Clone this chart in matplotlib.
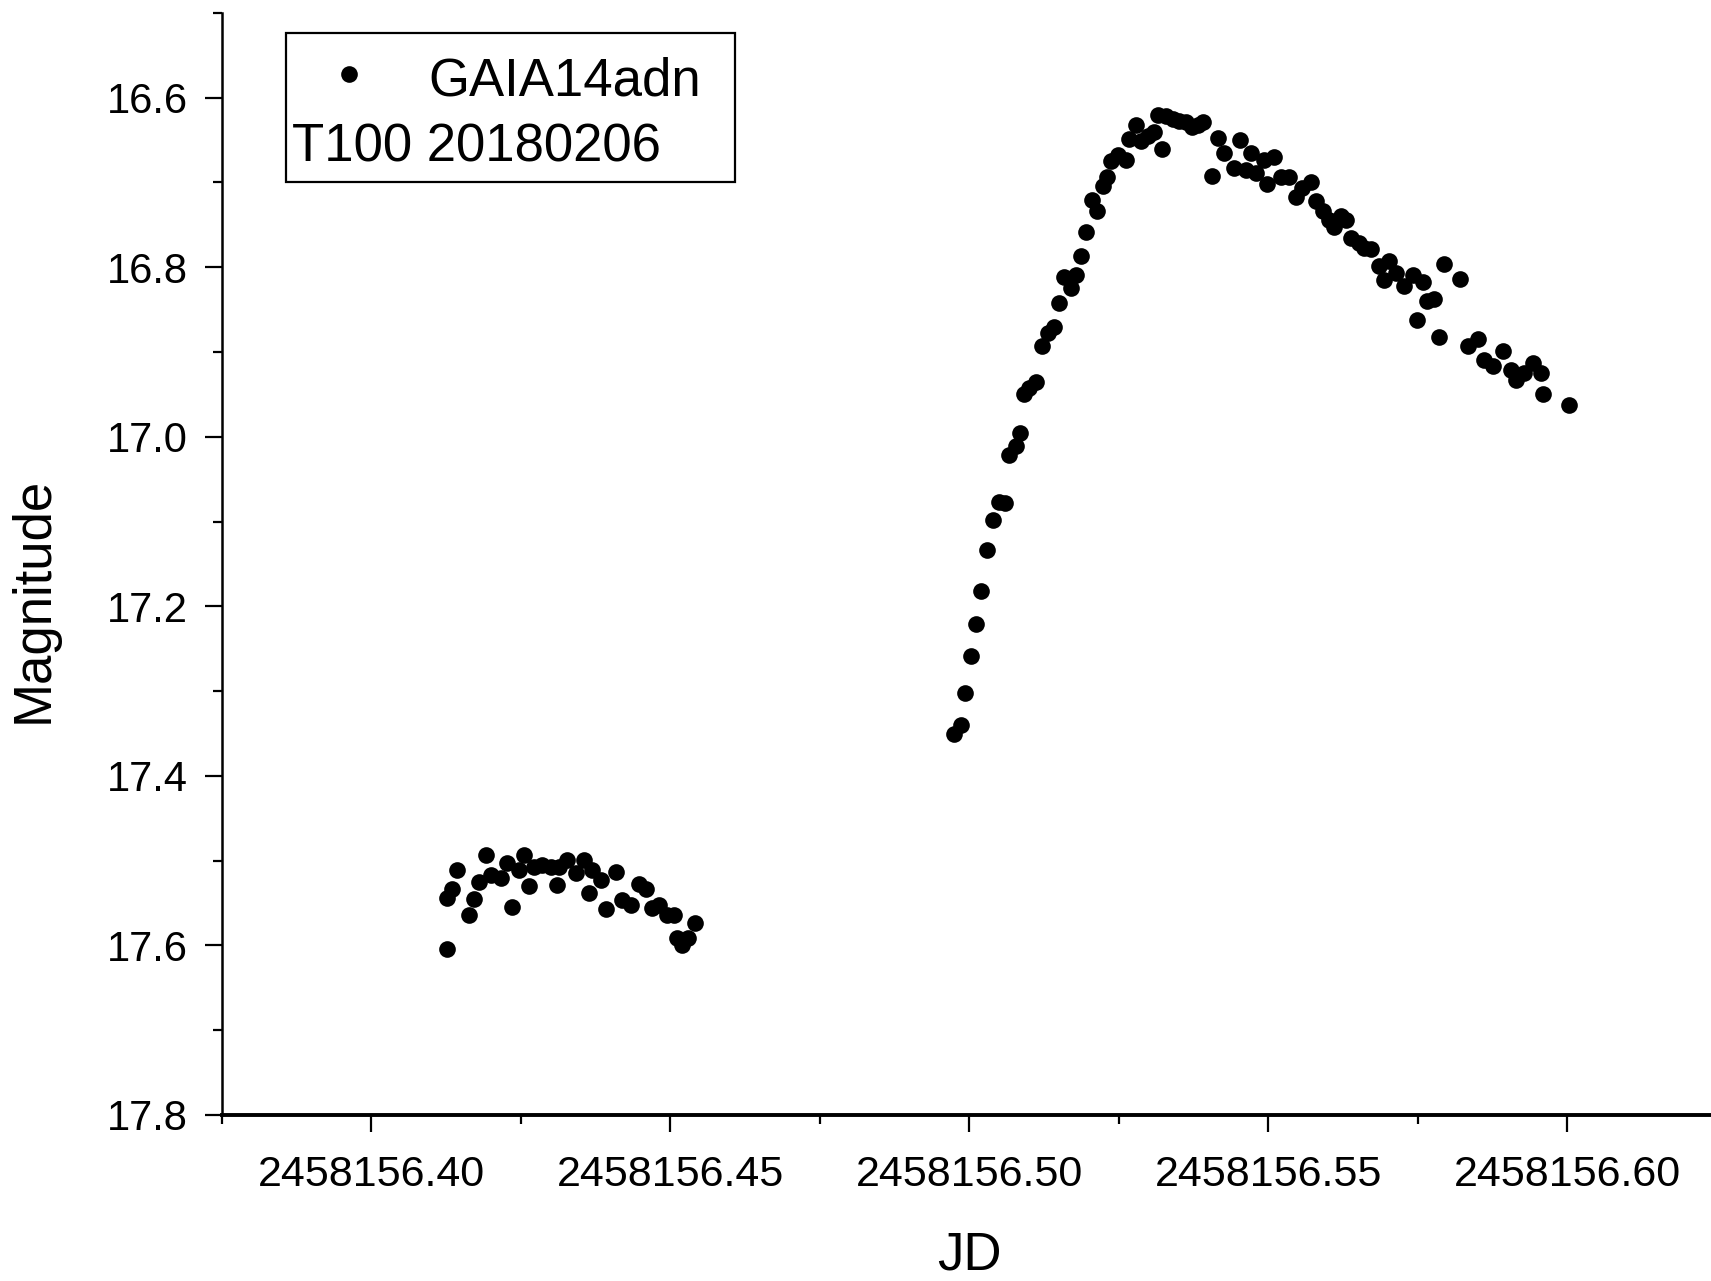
# -*- coding: utf-8 -*-
# T100 light curve of GAIA14adn, night of 2018-02-06
import numpy as np
from matplotlib import pyplot as plt
from matplotlib.ticker import MultipleLocator, FormatStrFormatter
from matplotlib.patches import Rectangle

plt.rcParams['font.family'] = ['Liberation Sans', 'DejaVu Sans']

JD0 = 2458156.0

# first segment (fraction of day after JD0, magnitude)
jd_a = [0.4127, 0.4127, 0.4136, 0.4144, 0.4163, 0.4172, 0.4180, 0.4192, 0.4200,
        0.4217, 0.4228, 0.4236, 0.4247, 0.4256, 0.4264, 0.4272, 0.4286, 0.4300,
        0.4310, 0.4314, 0.4328, 0.4342, 0.4356, 0.4364, 0.4370, 0.4384, 0.4392,
        0.4409, 0.4420, 0.4434, 0.4448, 0.4459, 0.4470, 0.4481, 0.4495, 0.4507,
        0.4512, 0.4520, 0.4529, 0.4542]
mag_a = [17.604, 17.544, 17.534, 17.511, 17.564, 17.545, 17.525, 17.493, 17.517,
         17.521, 17.503, 17.555, 17.511, 17.493, 17.530, 17.507, 17.505, 17.507,
         17.529, 17.507, 17.499, 17.515, 17.499, 17.538, 17.511, 17.523, 17.557,
         17.513, 17.546, 17.552, 17.528, 17.534, 17.556, 17.552, 17.564, 17.564,
         17.591, 17.599, 17.591, 17.573]

# second segment: rise, peak and decline
jd_b = [0.4975, 0.4986, 0.4993, 0.5003, 0.5011, 0.5020, 0.5029, 0.5039, 0.5050,
        0.5060, 0.5067, 0.5078, 0.5085, 0.5092, 0.5100, 0.5112, 0.5122, 0.5131,
        0.5142, 0.5150, 0.5159, 0.5170, 0.5178, 0.5186, 0.5195, 0.5205, 0.5214,
        0.5223, 0.5231, 0.5237, 0.5248, 0.5262, 0.5267, 0.5278, 0.5287, 0.5298,
        0.5309, 0.5315, 0.5323, 0.5329, 0.5340, 0.5351, 0.5362, 0.5373, 0.5382,
        0.5390, 0.5406, 0.5415, 0.5426, 0.5443, 0.5452, 0.5463, 0.5471, 0.5479,
        0.5493, 0.5498, 0.5510, 0.5521, 0.5535, 0.5546, 0.5557, 0.5571, 0.5580,
        0.5591, 0.5602, 0.5610, 0.5621, 0.5630, 0.5638, 0.5652, 0.5660, 0.5672,
        0.5685, 0.5694, 0.5702, 0.5713, 0.5727, 0.5741, 0.5748, 0.5758, 0.5766,
        0.5777, 0.5785, 0.5794, 0.5821, 0.5833, 0.5850, 0.5861, 0.5875, 0.5892,
        0.5906, 0.5914, 0.5928, 0.5942, 0.5956, 0.5959, 0.6003]
mag_b = [17.350, 17.340, 17.302, 17.259, 17.221, 17.182, 17.134, 17.098, 17.077,
         17.078, 17.021, 17.011, 16.996, 16.950, 16.942, 16.935, 16.893, 16.877,
         16.870, 16.842, 16.811, 16.824, 16.809, 16.787, 16.758, 16.721, 16.734,
         16.704, 16.693, 16.675, 16.667, 16.673, 16.649, 16.632, 16.651, 16.645,
         16.641, 16.620, 16.661, 16.622, 16.625, 16.627, 16.629, 16.634, 16.632,
         16.629, 16.692, 16.647, 16.665, 16.683, 16.650, 16.685, 16.665, 16.689,
         16.673, 16.702, 16.670, 16.693, 16.693, 16.717, 16.706, 16.700, 16.722,
         16.734, 16.744, 16.752, 16.740, 16.744, 16.765, 16.771, 16.777, 16.779,
         16.799, 16.815, 16.793, 16.807, 16.822, 16.809, 16.862, 16.817, 16.840,
         16.838, 16.882, 16.796, 16.814, 16.893, 16.885, 16.909, 16.917, 16.899,
         16.921, 16.933, 16.925, 16.913, 16.925, 16.950, 16.963]

star = "GAIA14adn"
night = "T100 20180206"

jd = JD0 + np.array(jd_a + jd_b)
mag = np.array(mag_a + mag_b)

fig = plt.figure(figsize=(17.11, 12.81), dpi=100)
ax = fig.add_axes([0.1295, 0.1296, 0.874, 0.8603])

ax.plot(jd, mag, 'o', color='black', markersize=12, markeredgewidth=0)

ax.set_xlim(JD0 + 0.375, JD0 + 0.625)
ax.set_ylim(17.8, 16.5)

ax.xaxis.set_major_locator(MultipleLocator(0.05))
ax.xaxis.set_minor_locator(MultipleLocator(0.025))
ax.xaxis.set_major_formatter(FormatStrFormatter('%.2f'))
ax.yaxis.set_major_locator(MultipleLocator(0.2))
ax.yaxis.set_minor_locator(MultipleLocator(0.1))

for s in ['top', 'right']:
    ax.spines[s].set_visible(False)
ax.spines['left'].set_linewidth(1.8)
ax.spines['bottom'].set_linewidth(2.8)

ax.tick_params(which='major', direction='out', length=12.5, width=1.6)
ax.tick_params(which='minor', direction='out', length=6.5, width=1.6)
ax.tick_params(axis='x', which='major', labelsize=31, pad=16)
ax.tick_params(axis='y', which='major', labelsize=30, pad=12)

ax.set_xlabel("JD", fontsize=38, labelpad=26)
ax.set_ylabel("Magnitude", fontsize=38)
ax.yaxis.set_label_coords(-0.1087, 0.4673)

# legend box drawn by hand: marker + name, observation tag on the second line
ax.add_patch(Rectangle((0.0431, 0.8466), 0.3003, 0.1353, transform=ax.transAxes,
                       facecolor='white', edgecolor='black', linewidth=1.6, zorder=5))
ax.plot([0.0853], [0.9446], 'o', color='black', markersize=12, markeredgewidth=0,
        transform=ax.transAxes, zorder=6, clip_on=False)
ax.text(0.138, 0.9247, star, transform=ax.transAxes, fontsize=38,
        va='baseline', ha='left', zorder=6)
ax.text(0.0474, 0.8652, night, transform=ax.transAxes, fontsize=38,
        va='baseline', ha='left', zorder=6)

fig.savefig('out.png', dpi=100)
